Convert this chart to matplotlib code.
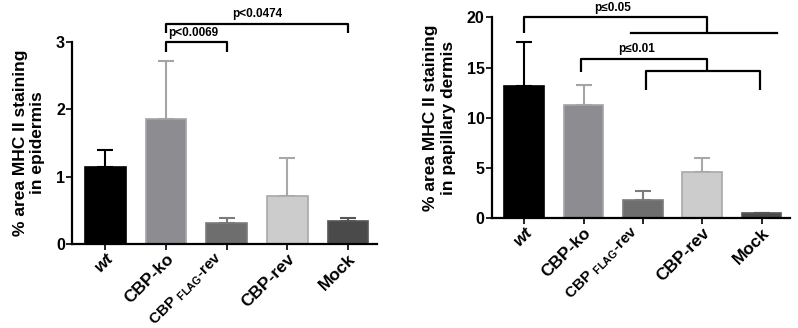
import matplotlib
matplotlib.use('Agg')
import matplotlib.pyplot as plt
import numpy as np

plt.rcParams['font.family'] = ['Liberation Sans', 'DejaVu Sans']
plt.rcParams['font.weight'] = 'bold'
plt.rcParams['mathtext.fontset'] = 'custom'
plt.rcParams['mathtext.rm'] = 'Liberation Sans:bold'
plt.rcParams['mathtext.bf'] = 'Liberation Sans:bold'

groups = ['wt', 'CBP-ko', r'CBP $_{\mathrm{FLAG}}$-rev', 'CBP-rev', 'Mock']

epi_mean = [1.15, 1.85, 0.31, 0.72, 0.34]
epi_err = [0.25, 0.87, 0.08, 0.55, 0.05]

derm_mean = [13.2, 11.3, 1.8, 4.6, 0.5]
derm_err = [4.3, 2.0, 0.9, 1.4, 0.05]

fills = ['#000000', '#8c8c91', '#6e6e6e', '#cccccc', '#4a4a4a']
edges = ['#000000', '#a3a3a8', '#7c7c7c', '#a8a8a8', '#565656']


def draw_panel(ax, means, errs, yticks, ylabel):
    x = np.arange(len(means))
    ax.bar(x, means, width=0.67, color=fills, edgecolor=edges, linewidth=1.2, zorder=2)
    for i in range(len(means)):
        ax.errorbar(x[i], means[i], yerr=[[0], [errs[i]]], fmt='none',
                    ecolor=edges[i], elinewidth=1.5, capsize=6, capthick=1.5, zorder=1)
    ax.set_xlim(-0.55, 4.48)
    ax.set_ylim(0, yticks[-1])
    ax.set_yticks(yticks)
    ax.set_xticks(x)
    # the mathtext label is placed by hand, tick label left blank
    ticklabs = [g if '$' not in g else '' for g in groups]
    ax.set_xticklabels(ticklabs, rotation=45, ha='right', rotation_mode='anchor',
                       fontsize=12.5, fontweight='bold')
    ax.get_xticklabels()[0].set_fontstyle('italic')
    for i, g in enumerate(groups):
        if '$' in g:
            ax.annotate(g, xy=(x[i], 0), xycoords=('data', 'axes fraction'),
                        xytext=(-3, -10), textcoords='offset points',
                        rotation=45, rotation_mode='anchor', ha='right',
                        va='baseline', fontsize=11, fontweight='bold',
                        annotation_clip=False)
    for lab in ax.get_yticklabels():
        lab.set_fontweight('bold')
        lab.set_fontsize(11.5)
    ax.spines['top'].set_visible(False)
    ax.spines['right'].set_visible(False)
    ax.spines['left'].set_linewidth(1.6)
    ax.spines['bottom'].set_linewidth(1.6)
    ax.tick_params(axis='both', length=4, width=1.2, pad=1)
    ax.set_ylabel(ylabel, fontsize=12.5, fontweight='bold', labelpad=8)


def bracket(ax, x0, x1, y_top, y_end0, y_end1, lw=1.6):
    ax.plot([x0, x0, x1, x1], [y_end0, y_top, y_top, y_end1], color='black',
            lw=lw, clip_on=False, solid_capstyle='butt')


fig = plt.figure(figsize=(7.98, 3.28), dpi=100)

ax1 = fig.add_axes([0.0902, 0.256, 0.3822, 0.616])
draw_panel(ax1, epi_mean, epi_err, [0, 1, 2, 3],
           '% area MHC II staining\nin epidermis')
bracket(ax1, 1, 2, 3.0, 2.85, 2.85)
ax1.text(1.45, 3.05, 'p<0.0069', ha='center', va='bottom', fontsize=8.5, fontweight='bold')
bracket(ax1, 1, 4, 3.27, 3.13, 3.13)
ax1.text(2.5, 3.33, 'p<0.0474', ha='center', va='bottom', fontsize=8.5, fontweight='bold')

ax2 = fig.add_axes([0.616, 0.3345, 0.374, 0.6125])
draw_panel(ax2, derm_mean, derm_err, [0, 5, 10, 15, 20],
           '% area MHC II staining\nin papillary dermis')
bracket(ax2, 0, 3.08, 20.0, 18.4, 18.4)
ax2.plot([1.8, 4.26], [18.4, 18.4], color='black', lw=1.6, clip_on=False)
ax2.text(1.49, 20.35, 'p\u22640.05', ha='center', va='bottom', fontsize=8.5, fontweight='bold')
bracket(ax2, 0.95, 3.08, 15.9, 14.6, 14.65)
bracket(ax2, 2.06, 3.98, 14.65, 12.8, 12.8)
ax2.text(1.9, 16.25, 'p\u22640.01', ha='center', va='bottom', fontsize=8.5, fontweight='bold')

fig.savefig('out.png', dpi=100)
